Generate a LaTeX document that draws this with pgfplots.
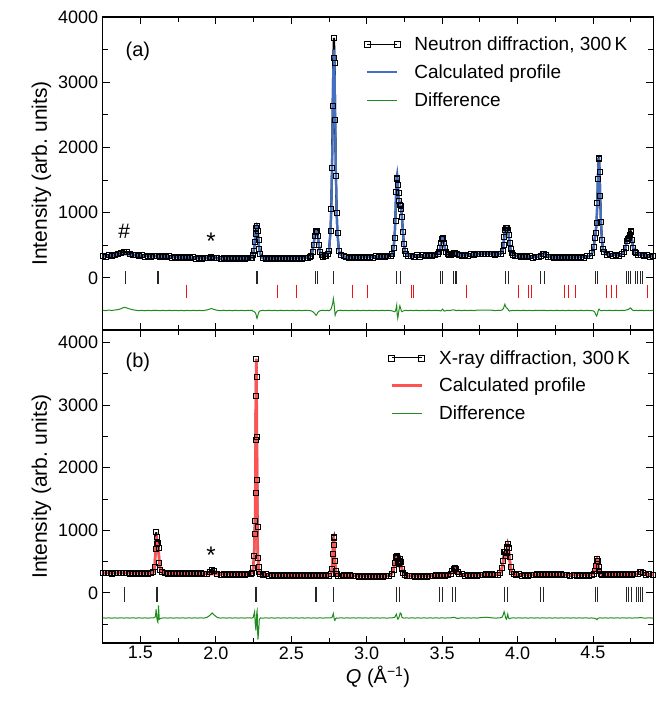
\documentclass[border=0pt]{standalone}
\usepackage{fontspec}
\setmainfont{Liberation Sans}
\usepackage{pgfplots}
\usepackage{pgfplotstable}
\pgfplotsset{compat=1.18}
\definecolor{calcblue}{RGB}{68,112,196}
\definecolor{calcred}{RGB}{255,82,82}
\definecolor{diffgreen}{RGB}{30,140,30}
\definecolor{tickred}{RGB}{240,20,20}

\pgfplotstableread{
Q obs calc diff
1.25 342 335 -497
1.27 328 337 -503
1.29 349 340 -495
1.31 336 343 -500
1.33 357 348 -494
1.35 361 352 -488
1.37 378 358 -475
1.39 400 362 -452
1.41 392 360 -462
1.43 372 354 -478
1.45 358 348 -490
1.47 346 345 -498
1.49 333 342 -503
1.51 348 340 -499
1.53 329 338 -505
1.55 344 336 -498
1.57 326 334 -504
1.59 340 332 -497
1.61 336 331 -499
1.63 322 330 -503
1.65 335 328 -498
1.67 318 326 -504
1.69 332 324 -497
1.71 313 321 -503
1.73 327 319 -498
1.75 309 317 -504
1.77 322 315 -499
1.79 304 313 -505
1.81 318 311 -498
1.83 300 309 -504
1.85 315 307 -498
1.87 297 305 -503
1.89 311 303 -499
1.91 293 301 -504
1.93 308 300 -497
1.95 312 300 -488
1.97 328 300 -470
1.99 314 299 -486
2.01 304 297 -498
2.03 288 297 -504
2.05 304 296 -497
2.07 287 296 -503
2.09 303 295 -498
2.11 286 295 -505
2.13 303 295 -497
2.15 287 295 -503
2.17 304 295 -498
2.19 287 295 -504
2.21 303 296 -499
2.23 300 298 -500
2.24 310 305 -497
2.245 350 356 -510
2.252 420 433 -515
2.258 545 565 -525
2.263 675 703 -540
2.267 760 785 -565
2.270 790 805 -605
2.273 795 785 -622
2.277 725 703 -590
2.282 590 565 -545
2.288 445 433 -515
2.295 362 356 -505
2.31 306 300 -499
2.33 289 297 -504
2.35 306 297 -497
2.37 290 298 -503
2.39 307 298 -498
2.41 291 299 -504
2.43 308 299 -497
2.45 292 300 -503
2.47 309 300 -498
2.49 293 301 -503
2.51 310 301 -497
2.53 294 302 -504
2.55 311 303 -498
2.57 295 303 -503
2.59 313 305 -499
2.61 311 309 -500
2.62 322 318 -502
2.63 340 345 -505
2.64 400 410 -515
2.648 500 520 -530
2.655 640 640 -545
2.660 700 700 -562
2.665 725 715 -575
2.670 720 700 -560
2.676 650 630 -530
2.683 500 510 -515
2.690 400 410 -505
2.700 345 345 -500
2.71 325 322 -497
2.72 330 329 -500
2.73 338 340 -503
2.74 361 358 -497
2.75 411 406 -505
2.76 714 693 -490
2.765 1051 1012 -470
2.770 1692 1618 -430
2.775 2635 2511 -390
2.779 3377 3213 -320
2.783 3680 3500 -380
2.787 3300 3213 -480
2.791 2420 2511 -575
2.796 1560 1618 -540
2.801 990 1012 -520
2.806 690 693 -505
2.816 410 406 -500
2.826 360 358 -497
2.846 330 329 -503
2.86 321 313 -499
2.88 305 313 -504
2.90 323 314 -498
2.92 307 315 -503
2.94 325 316 -497
2.96 309 317 -504
2.98 327 318 -498
3.00 311 319 -503
3.02 329 320 -497
3.04 313 321 -504
3.06 331 322 -498
3.08 315 323 -503
3.10 333 324 -498
3.12 317 325 -502
3.14 334 328 -499
3.16 338 340 -503
3.170 372 380 -508
3.178 455 470 -515
3.185 620 640 -520
3.190 880 900 -510
3.195 1320 1300 -470
3.199 1530 1560 -420
3.202 1520 1600 -560
3.206 1420 1500 -620
3.210 1300 1330 -560
3.215 1180 1180 -480
3.220 1120 1110 -430
3.225 1100 1080 -470
3.229 1060 1040 -500
3.234 930 920 -520
3.240 700 700 -510
3.246 520 520 -505
3.253 415 420 -500
3.262 372 370 -498
3.275 342 345 -503
3.29 344 336 -498
3.31 327 336 -503
3.33 346 337 -497
3.35 329 337 -504
3.37 347 338 -498
3.39 330 338 -503
3.41 348 339 -497
3.43 331 339 -502
3.45 349 341 -498
3.47 362 360 -500
3.480 395 400 -503
3.488 465 470 -505
3.494 535 540 -505
3.499 595 595 -490
3.503 615 610 -480
3.507 600 595 -492
3.512 530 540 -507
3.518 460 470 -510
3.526 398 400 -502
3.535 368 365 -498
3.545 346 352 -502
3.555 360 352 -498
3.565 366 362 -496
3.575 384 378 -490
3.585 382 380 -496
3.595 364 366 -502
3.61 358 350 -497
3.63 338 346 -503
3.65 357 348 -497
3.67 341 350 -502
3.69 361 352 -497
3.71 346 355 -503
3.73 367 358 -496
3.75 370 361 -495
3.77 373 364 -494
3.79 375 366 -494
3.81 374 366 -496
3.83 371 364 -497
3.85 352 361 -503
3.87 366 359 -498
3.89 372 370 -498
3.900 420 410 -490
3.906 510 480 -470
3.911 630 580 -440
3.916 740 680 -405
3.921 770 725 -440
3.926 760 720 -460
3.931 765 725 -465
3.936 740 720 -480
3.941 660 660 -500
3.947 540 550 -510
3.953 445 450 -505
3.960 388 390 -502
3.970 357 355 -498
3.985 334 340 -502
4.00 340 333 -498
4.02 321 330 -503
4.04 336 327 -497
4.06 316 324 -502
4.08 331 322 -498
4.10 312 320 -504
4.12 327 319 -497
4.14 324 322 -499
4.155 343 340 -500
4.165 366 362 -498
4.175 374 370 -497
4.185 360 358 -500
4.20 327 335 -503
4.22 326 318 -498
4.24 308 316 -503
4.26 323 315 -497
4.28 306 314 -503
4.30 322 314 -498
4.32 305 314 -504
4.34 323 315 -497
4.36 308 316 -503
4.38 325 317 -498
4.40 310 318 -503
4.42 328 320 -497
4.44 314 322 -504
4.46 333 326 -498
4.48 336 338 -502
4.495 385 380 -503
4.505 480 470 -510
4.512 610 590 -525
4.518 690 700 -560
4.524 840 880 -585
4.529 1150 1200 -560
4.533 1520 1550 -520
4.537 1830 1810 -490
4.540 1840 1820 -480
4.544 1620 1600 -490
4.548 1250 1250 -500
4.553 860 870 -505
4.559 585 590 -503
4.566 448 450 -502
4.575 393 390 -498
4.59 357 365 -503
4.61 362 355 -497
4.63 344 352 -503
4.65 358 350 -497
4.67 343 352 -502
4.69 366 362 -498
4.705 395 390 -500
4.715 460 450 -497
4.723 560 540 -492
4.730 600 585 -488
4.737 610 580 -480
4.743 660 610 -470
4.748 720 650 -462
4.753 700 640 -470
4.759 580 560 -490
4.766 465 460 -500
4.775 398 400 -503
4.785 384 375 -498
4.80 351 360 -503
4.82 360 352 -497
4.84 339 347 -503
4.86 350 342 -498
4.88 329 337 -503
4.90 340 333 -498
}\neutron

\pgfplotstableread{
Q obs calc diff
1.25 326 320 -398
1.27 313 320 -402
1.29 327 320 -398
1.31 312 320 -403
1.33 327 320 -398
1.35 313 320 -402
1.37 328 320 -398
1.39 313 320 -402
1.41 327 320 -398
1.43 312 319 -402
1.45 326 319 -398
1.47 311 319 -402
1.49 326 318 -398
1.51 311 318 -402
1.53 325 318 -399
1.55 310 317 -402
1.57 325 318 -399
1.585 330 330 -398
1.595 420 430 -395
1.600 700 720 -370
1.604 968 880 -260
1.608 900 890 -380
1.612 780 770 -450
1.616 800 760 -470
1.620 720 680 -200
1.625 480 520 -420
1.632 370 380 -410
1.640 330 335 -402
1.66 322 316 -398
1.68 306 314 -402
1.70 321 313 -398
1.72 305 312 -403
1.74 319 311 -398
1.76 303 310 -402
1.78 318 309 -398
1.80 302 308 -403
1.82 316 307 -398
1.84 300 306 -402
1.86 315 305 -398
1.88 299 305 -402
1.90 313 304 -398
1.92 298 304 -402
1.94 312 303 -392
1.96 340 303 -360
1.975 372 303 -320
1.99 345 302 -355
2.01 312 302 -393
2.03 295 301 -402
2.05 310 301 -398
2.07 294 300 -402
2.09 309 300 -398
2.11 293 300 -402
2.13 308 299 -398
2.15 292 299 -402
2.17 307 299 -398
2.19 291 298 -402
2.21 307 299 -398
2.23 305 305 -400
2.24 320 325 -402
2.248 400 390 -390
2.253 600 560 -340
2.257 950 880 -300
2.260 1150 1200 -440
2.262 1600 1750 -520
2.264 2450 2600 -560
2.266 3150 3350 -600
2.268 3740 3740 -420
2.270 3450 3500 -380
2.272 2500 2400 -300
2.274 1800 1500 -280
2.276 1050 900 -520
2.279 560 600 -745
2.283 420 400 -640
2.288 330 330 -430
2.295 300 300 -400
2.31 284 292 -403
2.33 297 289 -398
2.35 279 287 -402
2.37 294 285 -398
2.39 276 284 -403
2.41 291 283 -398
2.43 274 282 -402
2.45 289 281 -398
2.47 273 280 -402
2.49 288 280 -398
2.51 271 279 -402
2.53 287 279 -398
2.55 271 278 -402
2.57 286 278 -398
2.59 270 277 -402
2.61 285 277 -398
2.63 269 277 -402
2.65 285 277 -399
2.67 269 276 -402
2.69 284 276 -398
2.71 268 276 -402
2.73 283 276 -398
2.75 276 278 -400
2.762 300 298 -398
2.770 380 380 -390
2.775 620 600 -360
2.779 880 840 -330
2.782 900 860 -380
2.785 760 770 -420
2.789 520 560 -440
2.794 360 380 -410
2.80 300 300 -400
2.81 274 280 -402
2.83 278 275 -398
2.85 282 274 -402
2.87 266 274 -398
2.89 281 273 -402
2.91 265 273 -398
2.93 280 272 -402
2.95 264 272 -398
2.97 279 271 -402
2.99 263 271 -398
3.01 278 270 -402
3.03 262 270 -398
3.05 277 270 -402
3.07 262 269 -398
3.09 276 269 -402
3.11 261 269 -398
3.13 277 270 -402
3.15 273 275 -400
3.165 300 300 -398
3.178 370 380 -395
3.186 480 480 -390
3.192 570 550 -360
3.197 590 565 -340
3.202 560 560 -390
3.207 480 500 -420
3.212 460 450 -400
3.217 510 470 -370
3.222 545 480 -320
3.228 490 440 -330
3.234 380 380 -390
3.242 320 320 -400
3.252 290 292 -402
3.265 276 278 -398
3.28 265 273 -402
3.30 280 271 -398
3.32 264 271 -402
3.34 279 271 -398
3.36 263 271 -402
3.38 279 271 -398
3.40 264 272 -402
3.42 280 272 -398
3.44 265 273 -402
3.46 281 274 -398
3.48 267 275 -402
3.50 285 277 -398
3.52 271 279 -402
3.54 290 283 -398
3.555 300 300 -398
3.567 350 345 -395
3.575 380 370 -390
3.583 395 385 -392
3.592 380 380 -400
3.602 340 345 -410
3.612 310 310 -402
3.63 297 290 -398
3.65 278 285 -402
3.67 293 285 -398
3.69 277 285 -402
3.71 293 285 -398
3.73 278 286 -402
3.75 295 287 -396
3.77 281 288 -392
3.79 299 289 -388
3.81 285 290 -392
3.83 298 290 -398
3.85 283 291 -402
3.87 295 295 -400
3.885 320 320 -398
3.897 400 400 -390
3.905 520 500 -350
3.911 650 590 -300
3.916 660 620 -340
3.921 600 600 -400
3.926 640 640 -420
3.931 730 720 -380
3.935 780 760 -340
3.940 720 720 -400
3.946 570 580 -410
3.953 420 430 -405
3.962 330 335 -400
3.975 298 300 -398
3.99 282 289 -402
4.01 297 288 -398
4.03 280 288 -402
4.05 296 288 -398
4.07 280 288 -402
4.09 296 288 -398
4.11 281 288 -402
4.13 297 289 -398
4.15 283 290 -402
4.17 299 291 -398
4.19 282 290 -402
4.21 297 289 -398
4.23 281 289 -402
4.25 297 289 -398
4.27 281 289 -402
4.29 297 289 -398
4.31 281 289 -402
4.33 296 289 -398
4.35 280 289 -402
4.37 296 289 -398
4.39 280 288 -402
4.41 296 288 -398
4.43 280 288 -402
4.45 295 288 -398
4.47 280 288 -402
4.49 292 290 -400
4.503 310 310 -402
4.512 360 365 -405
4.518 440 450 -410
4.523 520 525 -420
4.527 540 545 -428
4.531 510 515 -410
4.536 420 420 -402
4.542 350 350 -400
4.55 310 310 -398
4.56 290 296 -402
4.58 298 290 -398
4.60 282 290 -402
4.62 298 290 -398
4.64 282 290 -402
4.66 298 290 -398
4.68 282 290 -402
4.70 298 290 -398
4.72 283 291 -402
4.74 299 292 -398
4.76 285 293 -402
4.78 302 295 -398
4.795 305 305 -400
4.81 330 325 -395
4.82 338 332 -395
4.83 318 318 -400
4.85 293 298 -402
4.87 301 293 -398
4.90 284 292 -402
}\xray

\pgfplotsset{
  panel/.style={
    scale only axis, width=550.6pt, height=313pt,
    anchor=north west,
    xmin=1.25, xmax=4.9,
    xtick={1.5,2.0,...,4.5},
    minor xtick={1.25,1.75,...,4.75},
    ymin=-800,
    ytick={0,1000,2000,3000,4000},
    minor ytick={-500,500,1500,2500,3500},
    tick align=inside, tick pos=both,
    major tick length=7pt, minor tick length=5pt,
    every tick/.style={black, line width=0.9pt},
    axis line style={line width=1.1pt},
    scaled y ticks=false,
    /pgf/number format/assume math mode=true,
    /pgf/number format/1000 sep={},
    yticklabel style={font=\fontsize{18}{21}\selectfont, xshift=-1pt},
    xticklabel style={font=\fontsize{18}{21}\selectfont, /pgf/number format/.cd, fixed, fixed zerofill, precision=1},
    ylabel={Intensity (arb.\ units)},
    ylabel style={font=\fontsize{21}{24}\selectfont},
    legend cell align=left,
    legend style={draw=none, fill=none, inner sep=0pt, anchor=north west,
      row sep=7.5pt,
      nodes={inner sep=2.5pt, font=\fontsize{19}{22}\selectfont},
      /tikz/every odd column/.append style={column sep=12pt}},
  },
  obsstyle/.style={black, line width=2.2pt, mark=square, mark size=2.5pt,
    mark options={line width=0.7pt, solid}},
  obslegend/.style={legend image code/.code={
      \draw[black, line width=0.8pt, mark=square, mark size=3pt, mark options={fill=white, line width=0.7pt}]
        plot coordinates {(0pt,0pt) (30pt,0pt)};}},
  linelegend/.style={legend image code/.code={\draw[##1] (0pt,0pt) -- (30pt,0pt);}},
}

\begin{document}
\begin{tikzpicture}
\path[use as bounding box] (0,0) rectangle (664pt,-706pt);

% ---------- (a) neutron ----------
\begin{axis}[panel, at={(102.7pt,-17pt)}, ymax=4000, xticklabels={},
  legend style={at={(axis description cs:0.474,0.945)}}]
\addplot[obsstyle, obslegend] table[x=Q, y=obs] {\neutron};
\addlegendentry{Neutron diffraction, 300\,K}
\addplot[calcblue, line width=2.2pt, linelegend] table[x=Q, y=calc] {\neutron};
\addlegendentry{Calculated profile}
\addplot[diffgreen, line width=1pt, linelegend] table[x=Q, y=diff] {\neutron};
\addlegendentry{Difference}
\addplot[forget plot, only marks, mark=|, mark size=6.5pt, mark options={black!85, line width=0.9pt}]
coordinates {(1.401,0) (1.610,0) (1.621,0) (2.267,0) (2.275,0) (2.657,0) (2.672,0) (2.778,0)
 (3.197,0) (3.223,0) (3.487,0) (3.505,0) (3.575,0) (3.589,0) (3.597,0) (3.919,0) (3.937,0)
 (4.150,0) (4.177,0) (4.514,0) (4.532,0) (4.721,0) (4.734,0) (4.750,0) (4.783,0) (4.794,0)
 (4.816,0) (4.831,0)};
\addplot[forget plot, only marks, mark=|, mark size=6.6pt, mark options={tickred, line width=0.9pt}]
coordinates {(1.802,-205) (2.410,-205) (2.536,-205) (2.903,-205) (3.002,-205) (3.300,-205)
 (3.313,-205) (3.663,-205) (4.007,-205) (4.071,-205) (4.095,-205) (4.313,-205) (4.335,-205)
 (4.382,-205) (4.591,-205) (4.622,-205) (4.655,-205) (4.860,-205)};
\node[font=\fontsize{20}{24}\selectfont] at (axis cs:1.483,3467) {(a)};
\node[font=\fontsize{21}{24}\selectfont] at (axis cs:1.393,710) {\#};
\node[font=\fontsize{24}{28}\selectfont] at (axis cs:1.969,560) {*};
\end{axis}

% ---------- (b) x-ray ----------
\begin{axis}[panel, at={(102.7pt,-330pt)}, ymax=4200,
  xlabel={\textit{Q} (Å\textsuperscript{−1})},
  xlabel style={font=\fontsize{20}{24}\selectfont},
  legend style={at={(axis description cs:0.519,0.944)}}]
\addplot[obsstyle, obslegend] table[x=Q, y=obs] {\xray};
\addlegendentry{X-ray diffraction, 300\,K}
\addplot[calcred, line width=2.6pt, linelegend] table[x=Q, y=calc] {\xray};
\addlegendentry{Calculated profile}
\addplot[diffgreen, line width=1pt, linelegend] table[x=Q, y=diff] {\xray};
\addlegendentry{Difference}
\addplot[forget plot, only marks, mark=|, mark size=7.8pt, mark options={black!85, line width=0.9pt}]
coordinates {(1.394,-25) (1.606,-25) (1.614,-25) (2.260,-25) (2.269,-25) (2.657,-25) (2.670,-25)
 (2.778,-25) (3.197,-25) (3.218,-25) (3.483,-25) (3.500,-25) (3.567,-25) (3.589,-25) (3.914,-25)
 (3.932,-25) (4.150,-25) (4.172,-25) (4.514,-25) (4.532,-25) (4.721,-25) (4.734,-25) (4.752,-25)
 (4.787,-25) (4.800,-25) (4.817,-25) (4.831,-25)};
\node[font=\fontsize{20}{24}\selectfont] at (axis cs:1.483,3679) {(b)};
\node[font=\fontsize{24}{28}\selectfont] at (axis cs:1.969,600) {*};
\end{axis}
\end{tikzpicture}
\end{document}
